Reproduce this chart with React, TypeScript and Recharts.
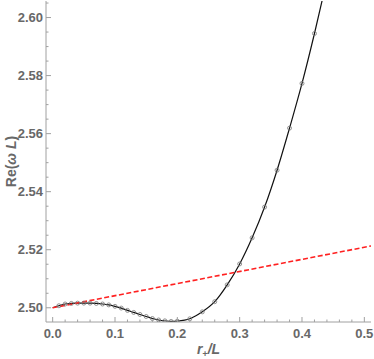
import React from 'react';
import { ComposedChart, Line, Scatter, XAxis, YAxis, Label } from 'recharts';

// ---- data ----
const sampleR = [
  0.01, 0.02, 0.03, 0.04, 0.05, 0.06, 0.07, 0.08, 0.09, 0.10,
  0.11, 0.12, 0.13, 0.14, 0.15, 0.16, 0.17, 0.18, 0.19, 0.20,
  0.22, 0.24, 0.26, 0.28, 0.30, 0.32, 0.34, 0.36, 0.38, 0.40, 0.42,
];
const sampleOmega = [
  2.5007, 2.5013, 2.5015, 2.5016, 2.5016, 2.5016, 2.5015, 2.5013, 2.5010, 2.5005,
  2.4999, 2.4991, 2.4984, 2.4977, 2.4970, 2.4963, 2.4958, 2.4955, 2.4953, 2.4954,
  2.4962, 2.4986, 2.5021, 2.5079, 2.5151, 2.5241, 2.5347, 2.5474, 2.5619, 2.5773, 2.5945,
];
const curveR = [0, ...sampleR, 0.44];
const curveOmega = [2.5, ...sampleOmega, 2.613];
const lineR = [0, 0.52];
const lineOmega = [2.5, 2.52168];

const xMajorTicks = [0, 0.1, 0.2, 0.3, 0.4, 0.5];
const xTickLabels = ['0.0', '0.1', '0.2', '0.3', '0.4', '0.5'];
const yMajorTicks = [2.5, 2.52, 2.54, 2.56, 2.58, 2.6];
const yTickLabels = ['2.50', '2.52', '2.54', '2.56', '2.58', '2.60'];

const X_DOMAIN: [number, number] = [-0.0107, 0.5107];
const Y_DOMAIN: [number, number] = [2.4951, 2.6057];

const xAllTicks: number[] = [];
for (let i = 0; i <= 25; i++) xAllTicks.push(Math.round(i * 0.02 * 1000) / 1000);
const yAllTicks: number[] = [];
for (let i = 0; i <= 21; i++) yAllTicks.push(Math.round((2.5 + i * 0.005) * 10000) / 10000);

const curveData = curveR.map((r, i) => ({ r, w: curveOmega[i] }));
const sampleData = sampleR.map((r, i) => ({ r, w: sampleOmega[i] }));
const lineData = lineR.map((r, i) => ({ r, w: lineOmega[i] }));

// ---- styles ----
const FRAME = '#a0a0a0';
const TEXT = '#686868';
const FONT = 'Liberation Sans, Arial, sans-serif';

const findIdx = (arr: number[], v: number) => arr.findIndex((t) => Math.abs(t - v) < 1e-7);

const XTick = (props: any) => {
  const { x, y, payload, top } = props;
  const idx = findIdx(xMajorTicks, payload.value);
  const len = idx >= 0 ? 5 : 2.5;
  return (
    <g>
      <line x1={x} x2={x} y1={y} y2={top ? y + len : y - len} stroke={FRAME} strokeWidth={1} />
      {!top && idx >= 0 && (
        <text x={x} y={y + 16} textAnchor="middle" fill={TEXT} fontSize={13} fontWeight="bold" fontFamily={FONT}>
          {xTickLabels[idx]}
        </text>
      )}
    </g>
  );
};

const YTick = (props: any) => {
  const { x, y, payload, right } = props;
  const idx = findIdx(yMajorTicks, payload.value);
  const len = idx >= 0 ? 5 : 2.5;
  return (
    <g>
      <line x1={x} x2={right ? x - len : x + len} y1={y} y2={y} stroke={FRAME} strokeWidth={1} />
      {!right && idx >= 0 && (
        <text x={x - 3} y={y + 4.6} textAnchor="end" fill={TEXT} fontSize={13} fontWeight="bold" fontFamily={FONT}>
          {yTickLabels[idx]}
        </text>
      )}
    </g>
  );
};

const XLabel = (props: any) => {
  const vb = props.viewBox || {};
  const cx = vb.x + vb.width / 2;
  return (
    <text x={cx} y={354} textAnchor="middle" fill={TEXT} fontSize={14} fontWeight="bold" fontFamily={FONT} fontStyle="italic">
      <tspan>r</tspan>
      <tspan fontSize={9} dy={3}>+</tspan>
      <tspan dy={-3}>/L</tspan>
    </text>
  );
};

const YLabel = (props: any) => {
  const vb = props.viewBox || {};
  const cy = vb.y + vb.height / 2;
  const cx = 16;
  return (
    <text x={cx} y={cy} transform={`rotate(-90 ${cx} ${cy})`} textAnchor="middle" fill={TEXT} fontSize={14} fontWeight="bold" fontFamily={FONT}>
      <tspan>Re(</tspan>
      <tspan fontStyle="italic">ω L</tspan>
      <tspan>)</tspan>
    </text>
  );
};

const Circle = (props: any) => (
  <circle cx={props.cx} cy={props.cy} r={2} fill="none" stroke="#7a7a7a" strokeWidth={0.8} />
);

export default function App() {
  return (
    <div style={{ position: 'absolute', left: 0, top: 0, width: 374, height: 359, background: '#fff' }}>
      <ComposedChart width={374} height={359} margin={{ top: 1, right: 3, left: 0, bottom: 0 }}>
        <XAxis
          xAxisId="b"
          type="number"
          dataKey="r"
          domain={X_DOMAIN}
          allowDataOverflow
          ticks={xAllTicks}
          interval={0}
          tickSize={0}
          tickMargin={0}
          height={37}
          axisLine={{ stroke: FRAME }}
          tick={<XTick />}
        >
          <Label content={<XLabel />} />
        </XAxis>
        <XAxis
          xAxisId="t"
          orientation="top"
          type="number"
          dataKey="r"
          domain={X_DOMAIN}
          allowDataOverflow
          ticks={xAllTicks}
          interval={0}
          tickSize={0}
          tickMargin={0}
          height={0}
          axisLine={{ stroke: FRAME }}
          tick={<XTick top />}
        />
        <YAxis
          yAxisId="l"
          type="number"
          dataKey="w"
          domain={Y_DOMAIN}
          allowDataOverflow
          ticks={yAllTicks}
          interval={0}
          tickSize={0}
          tickMargin={0}
          width={46}
          axisLine={{ stroke: FRAME }}
          tick={<YTick />}
        >
          <Label content={<YLabel />} />
        </YAxis>
        <YAxis
          yAxisId="rt"
          orientation="right"
          type="number"
          dataKey="w"
          domain={Y_DOMAIN}
          allowDataOverflow
          ticks={yAllTicks}
          interval={0}
          tickSize={0}
          tickMargin={0}
          width={0}
          axisLine={{ stroke: FRAME }}
          tick={<YTick right />}
        />
        <Line
          xAxisId="b"
          yAxisId="l"
          data={curveData}
          dataKey="w"
          type="monotone"
          stroke="#111"
          strokeWidth={1.2}
          dot={false}
          isAnimationActive={false}
        />
        <Scatter
          xAxisId="b"
          yAxisId="l"
          data={sampleData}
          dataKey="w"
          shape={<Circle />}
          isAnimationActive={false}
        />
        <Line
          xAxisId="b"
          yAxisId="l"
          data={lineData}
          dataKey="w"
          type="linear"
          stroke="#ff2020"
          strokeWidth={1.6}
          strokeDasharray="5 2.5"
          dot={false}
          isAnimationActive={false}
        />
      </ComposedChart>
    </div>
  );
}
